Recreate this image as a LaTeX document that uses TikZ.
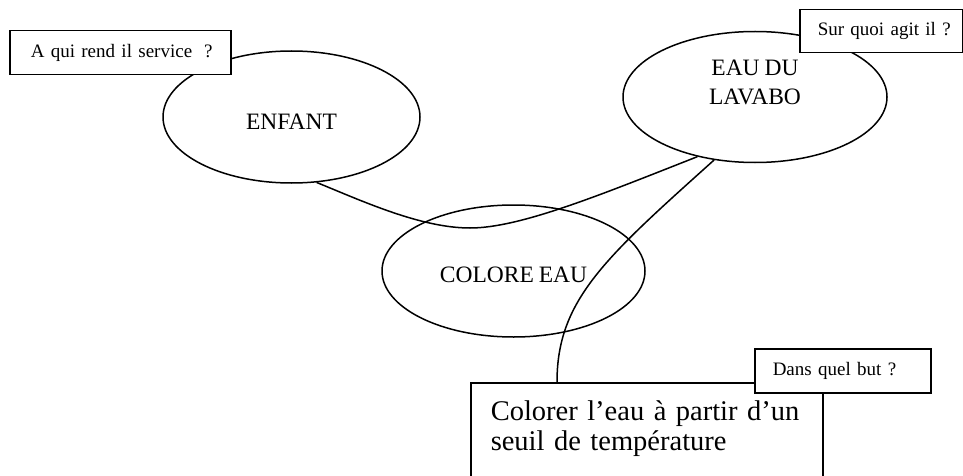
\documentclass[tikz,border=0pt]{standalone}
\usepackage{fontspec}
\setmainfont{Liberation Serif}[WordSpace=0.85]
\usetikzlibrary{shapes.geometric}
\begin{document}
\begin{tikzpicture}[x=1pt,y=-1pt,line width=1.5pt,
  oval/.style={draw, ellipse, inner sep=0pt, align=center,
    font=\fontsize{23.5}{29}\selectfont},
  qbox/.style={draw, fill=white, rectangle, anchor=north west, inner ysep=0pt,
    align=left, font=\fontsize{19}{22}\selectfont},
  goalbox/.style={draw, fill=white, rectangle, anchor=north west,
    inner xsep=20pt, inner ysep=18pt, text width=312pt, align=left,
    font=\fontsize{28.5}{30}\selectfont},
  link/.style={draw}]
\useasboundingbox (0,0) rectangle (963,476);
\clip (0,0) rectangle (963,476);
% ellipses
\node[oval, minimum width=257pt, minimum height=132pt, text height=24pt, text depth=0pt] (enfant) at (291.5,117) {ENFANT};
\node[oval, minimum width=264pt, minimum height=131pt] (lavabo) at (755,97) {EAU DU\\LAVABO\\\mbox{}};
\node[oval, minimum width=263pt, minimum height=132pt, text height=23pt, text depth=0pt] (colore) at (513.5,271) {COLORE EAU};
% goal box
\node[goalbox] (goal) at (470,382) {\mbox{Colorer l’eau à partir d’un}\\\mbox{seuil de température}\\[40pt]\mbox{}};
% connectors
\draw[link] (enfant.-69.6) .. controls (360,200) and (420,228) .. (470,228)
  .. controls (520,228) and (600,195) .. (lavabo.-134);
\draw[link] (lavabo.-123) .. controls (605,258) and (557,300) .. ([xshift=87pt]goal.north west);
% question boxes
\node[qbox, minimum height=44pt, inner xsep=21pt, text width=179pt] (q1) at (9,30) {\mbox{A qui rend il service\hspace{0.3em} ?}};
\node[qbox, minimum height=43pt, inner xsep=18pt, text width=127pt] (q2) at (799,9) {\mbox{Sur quoi agit il ?}};
\node[qbox, minimum height=44pt, inner xsep=18pt, text width=140pt] (q3) at (754,348) {\mbox{Dans quel but ?}};
\end{tikzpicture}
\end{document}
